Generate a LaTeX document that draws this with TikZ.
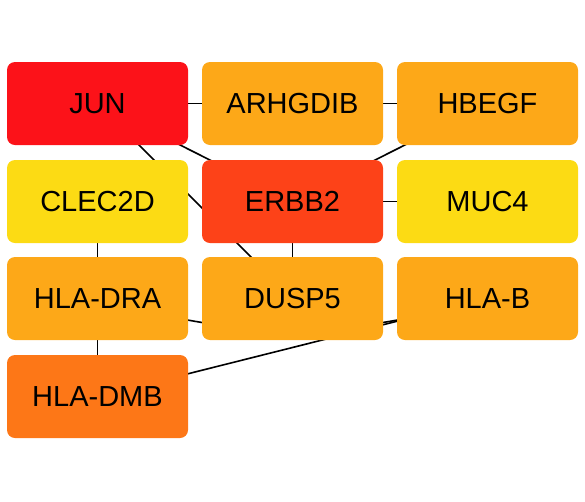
\documentclass[tikz,border=0pt]{standalone}
\usepackage{fontspec}
\setmainfont{Liberation Sans}
\usetikzlibrary{backgrounds}
\definecolor{junred}{RGB}{252,18,25}
\definecolor{genorange}{RGB}{253,168,24}
\definecolor{genyellow}{RGB}{252,219,20}
\definecolor{erbbred}{RGB}{253,66,24}
\definecolor{dmborange}{RGB}{253,119,23}
\tikzset{gene/.style={rounded corners=8pt,minimum width=181pt,minimum height=83pt,
    inner sep=0pt,font=\fontsize{29}{33}\selectfont},
  link/.style={line width=1.6pt}}
\begin{document}
\begin{tikzpicture}[x=1pt,y=-1pt]
    \useasboundingbox (0,0) rectangle (585,501);
    \node[gene,fill=junred] (jun) at (97.5,103.5) {JUN};
    \node[gene,fill=genorange] (arhgdib) at (292.5,103.5) {ARHGDIB};
    \node[gene,fill=genorange] (hbegf) at (487.5,103.5) {HBEGF};
    \node[gene,fill=genyellow] (clec2d) at (97.5,201.5) {CLEC2D};
    \node[gene,fill=erbbred] (erbb2) at (292.5,201.5) {ERBB2};
    \node[gene,fill=genyellow] (muc4) at (487.5,201.5) {MUC4};
    \node[gene,fill=genorange] (hladra) at (97.5,298.5) {HLA-DRA};
    \node[gene,fill=genorange] (dusp5) at (292.5,298.5) {DUSP5};
    \node[gene,fill=genorange] (hlab) at (487.5,298.5) {HLA-B};
    \node[gene,fill=dmborange] (hladmb) at (97.5,396.5) {HLA-DMB};
    \begin{pgfonlayer}{background}
    \draw[link] (jun.center) -- (arhgdib.center);
    \draw[link] (arhgdib.center) -- (hbegf.center);
    \draw[link] (jun.center) -- (erbb2.center);
    \draw[link] (jun.center) -- (dusp5.center);
    \draw[link] (hbegf.center) -- (erbb2.center);
    \draw[link] (erbb2.center) -- (muc4.center);
    \draw[link] (erbb2.center) -- (dusp5.center);
    \draw[link] (clec2d.center) -- (hladra.center);
    \draw[link] (hladra.center) -- (hladmb.center);
    \draw[link] (hladmb.center) -- (hlab.center);
    \draw[link] (hladra.center) to[bend right=16] (hlab.center);
    \end{pgfonlayer}
\end{tikzpicture}
\end{document}
